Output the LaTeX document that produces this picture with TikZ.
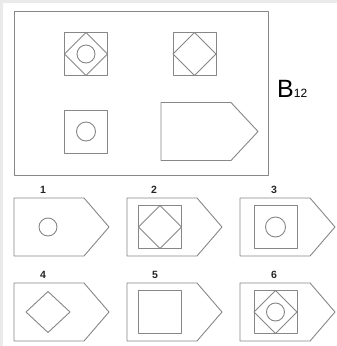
\documentclass[tikz,border=0pt]{standalone}
\usepackage{fontspec}
\setmainfont{Liberation Sans}
\definecolor{lineg}{RGB}{135,135,135}
\definecolor{faint}{RGB}{234,234,234}
\newcommand\shipat[5]{\draw[fig] (#1,#2) -- ++(#3-#5,0) -- ++(#5,#4/2) -- ++(-#5,#4/2) -- ++(#5-#3,0) -- cycle;}
\newcommand\sqat[2]{\draw[fig] (#1-21.5,#2-21.5) rectangle (#1+21.5,#2+21.5);}
\newcommand\diaat[2]{\draw[fig] (#1-21.5,#2) -- (#1,#2-21.5) -- (#1+21.5,#2) -- (#1,#2+21.5) -- cycle;}
\begin{document}
\begin{tikzpicture}[x=1pt,y=-1pt,
  fig/.style={draw=lineg,line width=0.9pt,line join=round},
  numlbl/.style={font=\bfseries\fontsize{10.5}{11}\selectfont,text=black!85,inner sep=0pt}]
\useasboundingbox[fill=white] (0,0) rectangle (337,346);
\fill[faint] (0,0) rectangle (3,346);
\fill[faint] (0,0) rectangle (337,3);
% main frame
\draw[fig] (14,11) rectangle (268,175);
% matrix figures
\sqat{86}{54} \diaat{86}{54} \draw[fig] (86,54) circle (9);
\sqat{194.5}{54} \diaat{194.5}{54}
\sqat{86}{131.5} \draw[fig] (86,131.5) circle (9.5);
\shipat{161}{102.5}{97}{58}{27}
\node[anchor=base west,inner sep=0pt] (title) at (277,97) {\fontsize{25}{25}\selectfont B\fontsize{12}{12}\selectfont 12};
% answers
\shipat{14}{198}{95}{58}{25}
\shipat{127}{198}{95}{58}{25}
\shipat{240}{198}{95}{58}{25}
\shipat{14}{283}{95}{58}{25}
\shipat{127}{283}{95}{58}{25}
\shipat{240}{283}{95}{58}{25}
\node[numlbl] (n1) at (43,190) {1};
\node[numlbl] (n2) at (154,190) {2};
\node[numlbl] (n3) at (274,190) {3};
\node[numlbl] (n4) at (43,275) {4};
\node[numlbl] (n5) at (155,275) {5};
\node[numlbl] (n6) at (274,275) {6};
% 1
\draw[fig] (48,227) circle (9);
% 2
\sqat{160}{227} \diaat{160}{227}
% 3
\sqat{275.5}{227} \draw[fig] (275.5,227) circle (10);
% 4
\draw[fig] (26,312) -- (48,291.5) -- (70,312) -- (48,332.5) -- cycle;
% 5
\sqat{160}{312}
% 6
\sqat{275.5}{312} \diaat{275.5}{312} \draw[fig] (275.5,312) circle (9);
\end{tikzpicture}
\end{document}
